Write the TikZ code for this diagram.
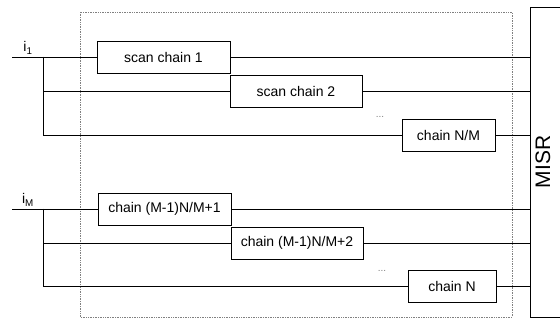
\documentclass[tikz,border=0pt]{standalone}
\usepackage{fontspec}
\setmainfont{Liberation Sans}

\tikzset{
	scanbox/.style={draw, minimum height=32pt, inner sep=0pt, font=\fontsize{14}{16}\selectfont},
	dotsnode/.style={font=\fontsize{10}{12}\selectfont, inner sep=0pt, text=gray},
	inlabel/.style={font=\fontsize{14}{16}\selectfont, inner sep=0pt},
}

\begin{document}
\begin{tikzpicture}[x=1pt, y=-1pt, line width=0.7pt]
		
		\clip (0,0) rectangle (560,320);
		
		% test area
		\draw[densely dotted, gray] (80,12) rectangle (512,317);
		
		\node[draw, minimum width=36pt, minimum height=310pt] (misr) at (548,162) {};
		
		\node[rotate=90, font=\fontsize{21}{24}\selectfont, inner sep=0pt] (misrtext) at (543,162) {MISR};
		
		% first group
		\coordinate (in1) at (12,57);
		
		\coordinate (b1) at (43,57);
		
		\node[inlabel] (l1) at (28,48) {i\textsubscript{1}};
		
		\node[scanbox, minimum width=133pt] (c1) at (163.5,57) {scan chain 1};
		
		\node[scanbox, minimum width=132pt] (c2) at (296,91) {scan chain 2};
		
		\node[dotsnode] (d1) at (380,117) {...};
		
		\node[scanbox, minimum width=93pt] (c3) at (448.5,135) {chain N/M};
		
		% last group
		\coordinate (in2) at (12,209);
		
		\coordinate (b2) at (43,209);
		
		\node[inlabel] (l2) at (28,200) {i\textsubscript{M}};
		
		\node[scanbox, minimum width=133pt] (c4) at (164.5,209) {chain (M-1)N/M+1};
		
		\node[scanbox, minimum width=132pt] (c5) at (297,243) {chain (M-1)N/M+2};
		
		\node[dotsnode] (d2) at (382,271) {...};
		
		\node[scanbox, minimum width=88pt] (c6) at (452,286) {chain N};
		
		\draw (in1) -- (c1.west);
		\draw (b1) |- (c2.west);
		\draw (b1) |- (c3.west);
		\draw (in2) -- (c4.west);
		\draw (b2) |- (c5.west);
		\draw (b2) |- (c6.west);
		
		\draw (c1) -- (c1 -| misr.west)
		(c2) -- (c2 -| misr.west)
		(c3) -- (c3 -| misr.west)
		(c4) -- (c4 -| misr.west)
		(c5) -- (c5 -| misr.west)
		(c6) -- (c6 -| misr.west);
		
	\end{tikzpicture}
\end{document}
